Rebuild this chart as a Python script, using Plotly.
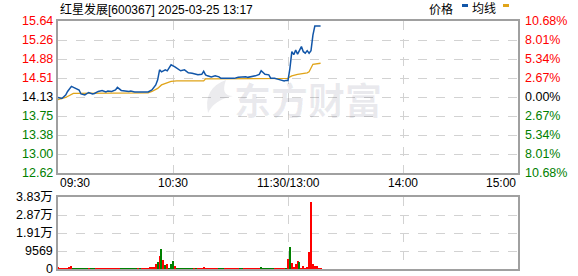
import plotly.graph_objects as go

# ---------------- data ----------------
STOCK_TITLE = "红星发展[600367] 2025-03-25 13:17"
PREV_CLOSE = 14.13
PCT_TICKS = [-10.68, -8.01, -5.34, -2.67, 0.0, 2.67, 5.34, 8.01, 10.68]
TIME_TICKS = ["09:30", "10:30", "11:30/13:00", "14:00", "15:00"]
VOL_TICKS = [0, 9569, 19138, 28707, 38276]
VOL_TICK_LABELS = ["0", "9569", "1.91万", "2.87万", "3.83万"]

PRICE_TIMES = ["09:30", "09:32", "09:34", "09:35", "09:37", "09:39", "09:41", "09:42", "09:44",
               "09:46", "09:48", "09:49", "09:51", "09:53", "09:55", "09:56", "09:58", "10:00",
               "10:01", "10:03", "10:05", "10:07", "10:08", "10:10", "10:12", "10:17", "10:19",
               "10:21", "10:22", "10:23", "10:24", "10:26", "10:27", "10:29", "10:31", "10:33",
               "10:34", "10:36", "10:38", "10:40", "10:41", "10:43", "10:45", "10:46", "10:47",
               "10:48", "10:50", "10:52", "10:54", "10:55", "10:59", "11:02", "11:04", "11:06",
               "11:08", "11:09", "11:11", "11:13", "11:15", "11:16", "11:18", "11:20", "11:21",
               "11:23", "11:25", "11:27", "11:28", "11:29", "11:30",
               "13:01", "13:02", "13:03", "13:04", "13:05", "13:06", "13:07", "13:08", "13:09",
               "13:10", "13:11", "13:12", "13:13", "13:14", "13:15", "13:16", "13:17"]
PRICES = [14.12, 14.10, 14.17, 14.24, 14.34, 14.30, 14.27, 14.19, 14.17,
          14.22, 14.19, 14.20, 14.24, 14.26, 14.23, 14.25, 14.24, 14.27,
          14.32, 14.26, 14.25, 14.24, 14.25, 14.23, 14.23, 14.23, 14.27,
          14.37, 14.47, 14.67, 14.63, 14.67, 14.65, 14.77, 14.73, 14.68,
          14.65, 14.67, 14.61, 14.60, 14.59, 14.57, 14.58, 14.64, 14.57,
          14.55, 14.53, 14.55, 14.53, 14.50, 14.50, 14.50, 14.52, 14.53,
          14.53, 14.52, 14.53, 14.55, 14.58, 14.65, 14.58, 14.57, 14.50,
          14.50, 14.48, 14.45, 14.45, 14.46, 14.46,
          14.70, 15.03, 14.97, 15.06, 14.98, 15.05, 15.13, 15.03, 15.00,
          15.05, 15.00, 15.05, 15.36, 15.54, 15.54, 15.54, 15.54]

AVG_TIMES = ["09:30", "09:34", "09:38", "10:17", "10:19", "10:22", "10:24", "10:27", "10:29",
             "10:32", "10:46", "10:47", "11:28",
             "13:00", "13:01", "13:02", "13:05", "13:08", "13:10", "13:11", "13:12", "13:13", "13:17"]
AVG_PRICES = [14.08, 14.12, 14.20, 14.21, 14.24, 14.30, 14.37, 14.42, 14.44,
              14.45, 14.45, 14.49, 14.49,
              14.50, 14.53, 14.55, 14.58, 14.59, 14.61, 14.63, 14.72, 14.78, 14.80]

# one bar per minute from 09:30; "u" = up (red), "d" = down (green)
VOLUMES = [600, 500, 400, 500, 500, 500, 600, 1400, 500, 400,
           500, 400, 500, 400, 500, 400, 500, 400, 400, 500,
           400, 500, 400, 500, 400, 500, 400, 500, 400, 400,
           500, 500, 400, 500, 400, 500, 400, 400, 500, 400,
           400, 500, 400, 400, 500, 500, 400, 500, 700, 800,
           700, 2400, 3900, 7000, 10600, 4900, 1900, 2400, 500, 2900,
           4400, 1400, 500, 400, 400, 500, 400, 400, 500, 400,
           400, 500, 400, 400, 500, 400, 600, 400, 500, 400,
           400, 500, 400, 400, 500, 400, 400, 400, 500, 400,
           400, 500, 400, 400, 500, 400, 400, 400, 500, 400,
           400, 500, 400, 500, 400, 500, 600, 400, 500, 400,
           500, 400, 500, 400, 500, 400, 400, 500, 400, 500,
           5500, 11800, 3400, 1000, 2400, 4400, 3900, 500, 1400, 500,
           1000, 9000, 35500, 2900, 1400, 1400, 500, 300]
DIRECTIONS = list("uuuuuuuu" "dddddddd" "uddd" "uuuuuuuuuuuuu" "ddddddddd" "udu"
                  "uuuuuuu" "dudud" "udd" "d" "uddddddddd" "udu" "uuuuuuuuuu" "ddd"
                  "uuuuuuuu" "dd" "uuuuuuuuu" "ddddddd" "uuuu"
                  "uududuuuuduuuuuuuu")

# ---------------- helpers ----------------
def to_index(t):
    h, m = map(int, t.split(":"))
    v = h * 60 + m
    return v - 570 if v <= 690 else v - 780 + 120

px = [to_index(t) for t in PRICE_TIMES]
ax = [to_index(t) for t in AVG_TIMES]
vx = list(range(len(VOLUMES)))
RED, GREEN, BLACK = "#ff0000", "#008000", "#000000"
vcol = [RED if d == "u" else GREEN for d in DIRECTIONS[:len(VOLUMES)]]
vcol += [RED] * (len(VOLUMES) - len(vcol))

price_ticks = [PREV_CLOSE * (1 + p / 100) for p in PCT_TICKS]
ymin, ymax = price_ticks[0], price_ticks[-1]

FONT = "Liberation Sans, Noto Sans CJK SC, sans-serif"
GRID = "#d2d2d2"
FRAME = "#a0a0a0"
WM = "rgba(30,30,70,0.09)"

fig = go.Figure()
fig.add_trace(go.Scatter(x=ax, y=AVG_PRICES, mode="lines", line=dict(color="#e0a419", width=1.3),
                         xaxis="x", yaxis="y", hoverinfo="skip"))
fig.add_trace(go.Scatter(x=px, y=PRICES, mode="lines", line=dict(color="#1256a8", width=1.5),
                         xaxis="x", yaxis="y", hoverinfo="skip"))
fig.add_trace(go.Bar(x=vx, y=VOLUMES, marker=dict(color=vcol, line=dict(width=0)), width=0.6,
                     xaxis="x2", yaxis="y2", hoverinfo="skip"))

common_x = dict(range=[0, 240], tickvals=[60, 120, 180], showticklabels=False, showgrid=True,
                gridcolor=GRID, griddash="dash", gridwidth=1, zeroline=False,
                showline=True, mirror=True, linecolor=FRAME, linewidth=1.5, ticks="")
H = 248
W = 460
main_bottom = (269 - 173) / H
vol_top = (269 - 197) / H

def pxx(x):
    return (x - 58) / W

def pxy(y):
    return (269 - y) / H

fig.update_layout(
    width=578, height=276, margin=dict(l=58, r=60, t=21, b=7),
    paper_bgcolor="white", plot_bgcolor="white", showlegend=False,
    font=dict(family=FONT, size=12, color="black"),
    xaxis=dict(domain=[0, 1], anchor="y", **common_x),
    yaxis=dict(domain=[main_bottom, 1], range=[ymin, ymax], tickvals=price_ticks,
               showticklabels=False, showgrid=True, gridcolor=GRID, griddash="dash",
               zeroline=False, showline=True, mirror=True, linecolor=FRAME, linewidth=1.5),
    xaxis2=dict(domain=[0, 1], anchor="y2", **common_x),
    yaxis2=dict(domain=[0, vol_top], range=[0, VOL_TICKS[-1]], tickvals=VOL_TICKS,
                showticklabels=False, showgrid=True, gridcolor=GRID, griddash="dash",
                zeroline=False, showline=True, mirror=True, linecolor=FRAME, linewidth=1.5),
    bargap=0,
)

ann = []
# watermark
ann.append(dict(text="<b>东方财富</b>", xref="paper", yref="paper", x=pxx(308),
                y=pxy(70), showarrow=False, font=dict(size=37, color=WM,
                family="Noto Sans CJK SC")))
# left and right price labels
for p, v in zip(PCT_TICKS, price_ticks):
    c = RED if p > 0 else (GREEN if p < 0 else BLACK)
    ann.append(dict(text=f"{v:.2f}", xref="paper", yref="y", x=-0.006, y=v, xanchor="right",
                    yanchor="middle", showarrow=False, font=dict(size=12.5, color=c)))
    ann.append(dict(text=f"{abs(p):.2f}%", xref="paper", yref="y", x=1.011, y=v, xanchor="left",
                    yanchor="middle", showarrow=False, font=dict(size=12.5, color=c)))
# volume labels
for v, t in zip(VOL_TICKS, VOL_TICK_LABELS):
    ann.append(dict(text=t, xref="paper", yref="y2", x=-0.006, y=v, xanchor="right",
                    yanchor="middle", showarrow=False, font=dict(size=12.5, color=BLACK)))
# time labels
anchors = ["left", "center", "center", "center", "right"]
for i, (t, a) in enumerate(zip(TIME_TICKS, anchors)):
    ann.append(dict(text=t, xref="x", yref="paper", x=i * 60, y=pxy(183), xanchor=a,
                    yanchor="middle", showarrow=False, font=dict(size=12, color=BLACK)))
# title
ann.append(dict(text=STOCK_TITLE, xref="paper", yref="paper", x=0, y=pxy(9),
                xanchor="left", yanchor="middle", showarrow=False, font=dict(size=12, color=BLACK)))
# legend
ann.append(dict(text="价格", xref="paper", yref="paper", x=pxx(455), y=pxy(9),
                xanchor="right", yanchor="middle", showarrow=False, font=dict(size=12, color=BLACK)))
ann.append(dict(text="均线", xref="paper", yref="paper", x=pxx(498), y=pxy(9),
                xanchor="right", yanchor="middle", showarrow=False, font=dict(size=12, color=BLACK)))
fig.update_layout(annotations=ann)

# logo swirl of the watermark, path in paper coords
def P(x, y):
    return f"{pxx(x):.4f},{pxy(y):.4f}"

logo = (f"M{P(226, 80)} Q{P(203, 88)} {P(208, 113)} Q{P(214, 100)} {P(233, 96)} "
        f"Q{P(220, 96)} {P(226, 80)} Z")
shapes = [
    dict(type="path", xref="paper", yref="paper", path=logo, fillcolor=WM, line=dict(width=0),
         layer="above"),
    dict(type="rect", xref="paper", yref="paper", x0=pxx(462), x1=pxx(468),
         y0=pxy(7), y1=pxy(4), fillcolor="#1256a8", line=dict(width=0)),
    dict(type="rect", xref="paper", yref="paper", x0=pxx(503), x1=pxx(509),
         y0=pxy(7), y1=pxy(4), fillcolor="#e0a419", line=dict(width=0)),
]
fig.update_layout(shapes=shapes)

fig.write_html("out.html")
